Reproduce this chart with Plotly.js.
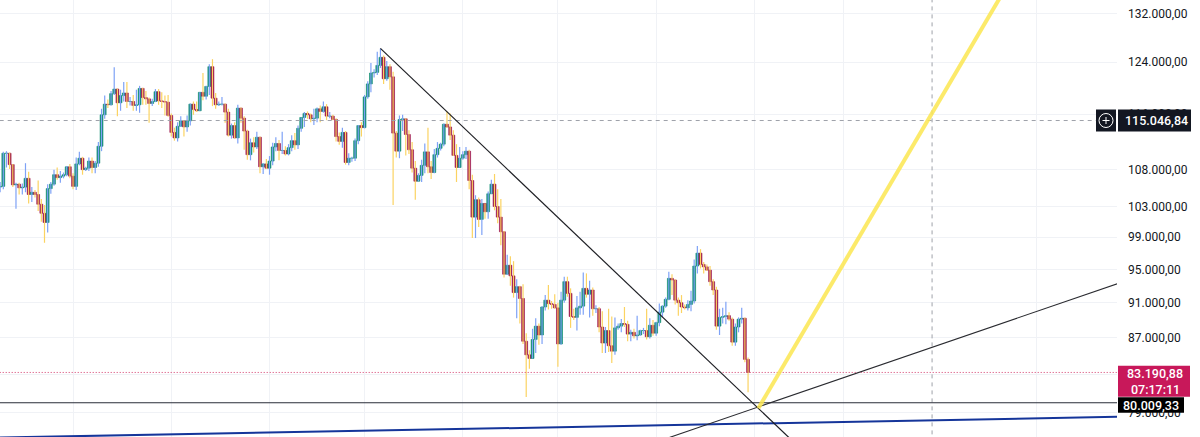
<!DOCTYPE html>
<html><head><meta charset="utf-8">
<script src="https://cdn.plot.ly/plotly-3.0.1.min.js"></script>
<style>html,body{margin:0;padding:0;background:#fff;}#chart{width:1200px;height:437px;}</style>
</head><body><div id="chart"></div>
<script>
// ---- daily candles (prices in thousands USD) ----
const dates = [
'2025-06-08','2025-06-09','2025-06-10','2025-06-11','2025-06-12','2025-06-13','2025-06-14','2025-06-15','2025-06-16','2025-06-17','2025-06-18','2025-06-19','2025-06-20','2025-06-21','2025-06-22','2025-06-23','2025-06-24','2025-06-25','2025-06-26','2025-06-27','2025-06-28','2025-06-29','2025-06-30',
'2025-07-01','2025-07-02','2025-07-03','2025-07-04','2025-07-05','2025-07-06','2025-07-07','2025-07-08','2025-07-09','2025-07-10','2025-07-11','2025-07-12','2025-07-13','2025-07-14','2025-07-15','2025-07-16','2025-07-17','2025-07-18','2025-07-19','2025-07-20','2025-07-21','2025-07-22','2025-07-23','2025-07-24','2025-07-25','2025-07-26','2025-07-27','2025-07-28','2025-07-29','2025-07-30','2025-07-31',
'2025-08-01','2025-08-02','2025-08-03','2025-08-04','2025-08-05','2025-08-06','2025-08-07','2025-08-08','2025-08-09','2025-08-10','2025-08-11','2025-08-12','2025-08-13','2025-08-14','2025-08-15','2025-08-16','2025-08-17','2025-08-18','2025-08-19','2025-08-20','2025-08-21','2025-08-22','2025-08-23','2025-08-24','2025-08-25','2025-08-26','2025-08-27','2025-08-28','2025-08-29','2025-08-30','2025-08-31',
'2025-09-01','2025-09-02','2025-09-03','2025-09-04','2025-09-05','2025-09-06','2025-09-07','2025-09-08','2025-09-09','2025-09-10','2025-09-11','2025-09-12','2025-09-13','2025-09-14','2025-09-15','2025-09-16','2025-09-17','2025-09-18','2025-09-19','2025-09-20','2025-09-21','2025-09-22','2025-09-23','2025-09-24','2025-09-25','2025-09-26','2025-09-27','2025-09-28','2025-09-29','2025-09-30',
'2025-10-01','2025-10-02','2025-10-03','2025-10-04','2025-10-05','2025-10-06','2025-10-07','2025-10-08','2025-10-09','2025-10-10','2025-10-11','2025-10-12','2025-10-13','2025-10-14','2025-10-15','2025-10-16','2025-10-17','2025-10-18','2025-10-19','2025-10-20','2025-10-21','2025-10-22','2025-10-23','2025-10-24','2025-10-25','2025-10-26','2025-10-27','2025-10-28','2025-10-29','2025-10-30','2025-10-31',
'2025-11-01','2025-11-02','2025-11-03','2025-11-04','2025-11-05','2025-11-06','2025-11-07','2025-11-08','2025-11-09','2025-11-10','2025-11-11','2025-11-12','2025-11-13','2025-11-14','2025-11-15','2025-11-16','2025-11-17','2025-11-18','2025-11-19','2025-11-20','2025-11-21','2025-11-22','2025-11-23','2025-11-24','2025-11-25','2025-11-26','2025-11-27','2025-11-28','2025-11-29','2025-11-30',
'2025-12-01','2025-12-02','2025-12-03','2025-12-04','2025-12-05','2025-12-06','2025-12-07','2025-12-08','2025-12-09','2025-12-10','2025-12-11','2025-12-12','2025-12-13','2025-12-14','2025-12-15','2025-12-16','2025-12-17','2025-12-18','2025-12-19','2025-12-20','2025-12-21','2025-12-22','2025-12-23','2025-12-24','2025-12-25','2025-12-26','2025-12-27','2025-12-28','2025-12-29','2025-12-30','2025-12-31',
'2026-01-01','2026-01-02','2026-01-03','2026-01-04','2026-01-05','2026-01-06','2026-01-07','2026-01-08','2026-01-09','2026-01-10','2026-01-11','2026-01-12','2026-01-13','2026-01-14','2026-01-15','2026-01-16','2026-01-17','2026-01-18','2026-01-19','2026-01-20','2026-01-21','2026-01-22','2026-01-23','2026-01-24','2026-01-25','2026-01-26','2026-01-27','2026-01-28','2026-01-29','2026-01-30'
];
const openK = [
105.6,105.7,110.3,110.3,108.7,105.9,106.0,105.5,105.6,106.8,104.6,104.9,104.6,103.3,102.1,100.9,105.4,106.0,107.3,106.9,107.1,107.3,108.4,
107.1,105.7,108.8,109.6,108.0,108.2,109.2,108.3,108.9,111.3,115.9,117.5,117.4,119.1,119.8,117.7,118.8,119.2,117.9,117.9,117.3,117.4,119.9,118.5,118.3,117.6,117.9,119.4,118.0,117.9,117.8,
115.8,113.3,112.5,114.2,115.0,114.1,115.0,117.5,116.7,116.5,119.3,118.7,120.2,123.3,118.4,117.4,117.5,117.5,116.3,112.9,114.3,112.5,116.9,115.4,113.5,110.1,111.8,111.2,112.6,108.4,108.8,
108.2,109.2,111.2,111.7,110.7,110.7,110.2,111.1,112.1,111.5,113.9,115.5,116.1,115.9,115.3,115.4,116.8,116.4,117.1,115.7,115.7,115.2,112.7,112.0,113.3,109.0,109.6,109.6,112.1,114.3,
114.0,118.6,120.6,122.3,122.4,123.5,124.8,121.4,123.3,121.7,113.2,110.6,115.2,115.3,113.0,110.8,108.2,106.4,107.2,108.6,110.5,108.4,107.6,110.1,111.0,111.6,114.5,114.1,112.9,110.0,108.3,
109.6,110.1,110.6,106.5,101.6,103.9,101.3,103.4,102.3,104.7,106.0,103.0,101.6,99.7,94.4,95.5,94.2,92.2,92.9,91.5,86.6,85.1,84.7,86.8,88.3,87.3,90.5,91.3,90.9,90.8,
90.4,86.3,91.3,93.5,92.1,89.4,89.3,90.4,90.6,92.7,92.0,92.5,90.3,90.3,88.2,86.4,87.8,86.1,85.5,88.1,88.3,88.6,88.5,87.4,87.6,87.2,87.3,87.8,87.8,87.1,88.4,
87.5,88.7,89.9,90.6,91.4,93.9,93.7,91.3,91.0,90.5,90.4,90.8,91.2,95.4,97.0,95.6,95.3,94.9,93.5,92.5,88.3,89.3,89.4,89.5,89.1,86.5,88.2,89.1,89.2,84.6
];
const highK = [
106.3,110.5,110.6,110.4,108.8,106.2,106.2,106.1,108.9,107.7,105.6,105.2,106.5,104.0,103.2,106.0,106.3,108.0,108.3,107.8,107.6,108.5,108.8,
107.5,109.7,110.5,109.8,108.4,109.7,109.7,109.2,111.9,116.8,118.8,118.2,119.5,123.2,119.9,119.7,120.9,120.9,118.6,118.9,119.7,120.3,120.0,119.5,118.5,118.3,119.8,119.8,119.3,118.8,118.9,
116.1,114.0,114.8,115.7,115.1,115.8,117.6,117.9,117.9,119.3,122.3,120.3,123.7,124.5,119.2,117.9,118.6,117.6,116.8,114.6,114.8,117.4,117.0,115.7,113.7,112.4,112.6,113.4,112.7,108.9,109.5,
109.9,111.8,112.6,112.2,113.4,111.3,111.6,112.9,113.2,114.3,115.5,116.3,116.4,116.1,116.8,117.0,117.3,117.9,117.5,116.3,115.9,115.4,113.3,114.0,113.5,110.3,109.8,112.4,114.4,114.8,
118.9,121.0,123.9,122.9,125.7,126.2,125.1,124.2,123.7,122.5,113.5,115.8,115.9,115.4,113.6,111.9,109.2,107.5,109.4,111.7,114.0,109.2,110.9,111.9,111.8,114.6,116.4,116.1,113.6,111.6,111.2,
110.6,111.2,110.8,107.3,104.5,104.2,104.0,103.4,105.0,106.6,107.4,105.3,104.0,99.8,96.8,96.6,96.0,93.8,93.0,93.2,87.5,85.6,88.0,89.2,88.6,90.6,91.9,93.1,91.2,92.0,
91.0,92.3,94.1,94.1,92.7,90.3,91.8,92.3,94.6,94.5,93.6,92.8,90.7,90.5,90.0,88.2,90.3,89.4,89.3,88.6,89.1,90.5,88.9,87.9,88.0,89.5,87.9,88.1,90.3,89.2,89.0,
88.8,90.9,90.7,91.6,94.7,94.4,93.8,91.6,91.9,90.8,91.3,92.4,96.2,97.9,97.5,95.9,95.6,95.4,93.8,92.9,90.3,90.4,91.1,89.9,89.3,88.6,89.3,90.4,89.3,84.8
];
const lowK = [
104.9,105.3,108.3,108.1,105.6,102.7,104.6,104.6,104.9,103.4,103.6,104.2,102.4,101.0,98.3,99.6,104.7,105.8,106.6,106.2,106.8,107.1,106.8,
105.3,105.2,108.6,107.3,107.8,107.8,107.5,107.5,108.4,110.6,115.3,116.9,117.3,118.9,115.7,116.5,117.9,116.9,117.3,116.5,116.5,116.2,117.4,117.4,114.7,117.2,117.8,117.4,116.9,115.8,115.6,
112.7,112.1,112.0,114.1,112.7,113.4,114.3,115.9,116.3,116.5,118.1,118.2,118.9,117.2,116.8,117.2,117.3,114.7,112.7,112.4,112.4,111.7,114.7,110.8,109.4,109.3,110.4,110.9,107.5,107.4,108.1,
107.3,108.6,110.6,109.3,110.2,110.0,110.0,110.6,110.8,110.9,113.4,114.1,115.3,114.8,114.4,114.8,114.8,116.2,115.1,115.4,115.1,112.0,111.5,111.1,108.7,108.6,109.1,109.2,111.6,112.7,
113.9,118.3,119.3,121.6,122.0,123.1,120.6,121.1,119.7,103.2,109.7,109.6,113.5,110.0,110.2,107.6,103.9,106.4,106.3,107.5,107.5,106.7,107.5,109.7,110.7,111.3,114.0,112.2,109.9,106.3,108.3,
109.4,109.5,105.3,98.9,98.9,100.3,99.3,101.4,101.4,104.7,102.5,100.8,98.0,94.0,94.3,93.0,91.6,89.2,88.6,86.3,80.6,83.6,84.7,85.3,86.2,86.3,90.1,90.2,90.3,90.3,
83.8,86.2,91.0,91.7,88.1,89.0,87.8,89.6,89.6,91.6,89.3,89.5,89.8,87.6,85.3,85.3,85.4,84.2,85.1,87.9,87.6,88.2,86.6,86.6,86.9,86.7,87.2,87.4,86.8,86.9,87.2,
87.2,88.3,89.3,90.4,91.3,91.9,90.8,89.5,89.8,90.2,90.1,90.0,90.9,94.5,95.1,94.5,94.8,93.0,91.9,87.9,87.3,88.6,88.5,88.9,86.1,86.1,87.6,88.6,84.3,81.1
];
const closeK = [
105.7,110.3,110.3,108.7,105.9,106.0,105.5,105.6,106.8,104.6,104.9,104.6,103.3,102.1,100.9,105.4,106.0,107.3,106.9,107.1,107.3,108.4,107.1,
105.7,108.8,109.6,108.0,108.2,109.2,108.3,108.9,111.3,115.9,117.5,117.4,119.1,119.8,117.7,118.8,119.2,117.9,117.9,117.3,117.4,119.9,118.5,118.3,117.6,117.9,119.4,118.0,117.9,117.8,115.8,
113.3,112.5,114.2,115.0,114.1,115.0,117.5,116.7,116.5,119.3,118.7,120.2,123.3,118.4,117.4,117.5,117.5,116.3,112.9,114.3,112.5,116.9,115.4,113.5,110.1,111.8,111.2,112.6,108.4,108.8,108.2,
109.2,111.2,111.7,110.7,110.7,110.2,111.1,112.1,111.5,113.9,115.5,116.1,115.9,115.3,115.4,116.8,116.4,117.1,115.7,115.7,115.2,112.7,112.0,113.3,109.0,109.6,109.6,112.1,114.3,114.0,
118.6,120.6,122.3,122.4,123.5,124.8,121.4,123.3,121.7,113.2,110.6,115.2,115.3,113.0,110.8,108.2,106.4,107.2,108.6,110.5,108.4,107.6,110.1,111.0,111.6,114.5,114.1,112.9,110.0,108.3,109.6,
110.1,110.6,106.5,101.6,103.9,101.3,103.4,102.3,104.7,106.0,103.0,101.6,99.7,94.4,95.5,94.2,92.2,92.9,91.5,86.6,85.1,84.7,86.8,88.3,87.3,90.5,91.3,90.9,90.8,90.4,
86.3,91.3,93.5,92.1,89.4,89.3,90.4,90.6,92.7,92.0,92.5,90.3,90.3,88.2,86.4,87.8,86.1,85.5,88.1,88.3,88.6,88.5,87.4,87.6,87.2,87.3,87.8,87.8,87.1,88.4,87.5,
88.7,89.9,90.6,91.4,93.9,93.7,91.3,91.0,90.5,90.4,90.8,91.2,95.4,97.0,95.6,95.3,94.9,93.5,92.5,88.3,89.3,89.4,89.5,89.1,86.5,88.2,89.1,89.2,84.6,83.19088
];

// ---- axis ticks / grid ----
const priceTicks = [79000,83000,87000,91000,95000,99000,103000,108000,116000,124000,132000];
const gridDates = ['2025-07-01','2025-08-01','2025-09-01','2025-10-01','2025-11-01','2025-12-01','2026-01-01','2026-02-01','2026-03-01','2026-05-01'];

// ---- price labels / levels ----
const lastPrice = 83190.88, lastPriceText = '83.190,88', countdownText = '07:17:11';
const levelPrice = 80009.33, levelText = '80.009,33';
const crossPrice = 115046.84, crossText = '115.046,84', crossDate = '2026-03-29 01:30';

// ---- drawings (trend lines) ----
const downTrendX = ['2025-10-06', '2026-02-19 05:00'], downTrendY = [126250, 74362];
const riseTrendX = ['2026-01-02 05:00', '2026-05-30 12:00'], riseTrendY = [76194, 93774];
const yellowX = ['2026-02-02 06:00', '2026-04-22 18:30'], yellowY = [79438, 137855];
const blueX = ['2025-06-07 23:00', '2026-05-30 12:00'], blueY = [76503, 78599];

// ---- build ----
const O = openK.map(v => v * 1000), H = highK.map(v => v * 1000),
      L = lowK.map(v => v * 1000), C = closeK.map(v => v * 1000);
const UP = '#0a8a6e', DOWN = '#9a0f47';
const upWickX = [], upWickY = [], dnWickX = [], dnWickY = [];
dates.forEach((d, i) => {
  if (C[i] >= O[i]) { upWickX.push(d, d, null); upWickY.push(L[i], H[i], null); }
  else { dnWickX.push(d, d, null); dnWickY.push(L[i], H[i], null); }
});
const bodyColors = dates.map((d, i) => C[i] >= O[i] ? UP : DOWN);

const xRange = ['2025-06-07 23:00', '2026-05-26 10:00'];
const yRange = [Math.log10(76559), Math.log10(134350)];
const farX = ['2025-05-01', '2026-07-01'];

const traces = [
  {type: 'scatter', mode: 'lines', x: upWickX, y: upWickY, line: {color: '#7ea2f6', width: 1.2}, hoverinfo: 'skip'},
  {type: 'scatter', mode: 'lines', x: dnWickX, y: dnWickY, line: {color: '#fbd362', width: 1.2}, hoverinfo: 'skip'},
  {type: 'bar', x: dates, base: O, y: C.map((c, i) => c - O[i]), width: 0.9 * 86400000,
   marker: {color: bodyColors, line: {color: bodyColors, width: 0.6}}, hoverinfo: 'skip'},
  // crosshair
  {type: 'scatter', mode: 'lines', x: farX, y: [crossPrice, crossPrice], line: {color: '#9ea1a9', width: 1, dash: '4px,4px'}},
  {type: 'scatter', mode: 'lines', x: [crossDate, crossDate], y: [60000, 160000], line: {color: '#9ea1a9', width: 1, dash: '4px,4px'}},
  // last price dotted
  {type: 'scatter', mode: 'lines', x: farX, y: [lastPrice, lastPrice], line: {color: '#d2386a', width: 1, dash: '1px,2px'}},
  // horizontal level
  {type: 'scatter', mode: 'lines', x: farX, y: [levelPrice, levelPrice], line: {color: '#2a2e39', width: 1.2}},
  // trend lines
  {type: 'scatter', mode: 'lines', x: blueX, y: blueY, line: {color: '#15359a', width: 2}},
  {type: 'scatter', mode: 'lines', x: downTrendX, y: downTrendY, line: {color: '#1e1f24', width: 1.2}},
  {type: 'scatter', mode: 'lines', x: riseTrendX, y: riseTrendY, line: {color: '#2a2b30', width: 1.1}},
  {type: 'scatter', mode: 'lines', x: yellowX, y: yellowY, line: {color: 'rgba(252,230,80,0.85)', width: 4}}
];

const PW = 1117, PH = 437;
const px = v => v / PW, py = v => 1 - v / PH;
const shapes = [
  {type: 'rect', xref: 'paper', yref: 'paper', x0: px(1096), x1: px(1116), y0: py(131.5), y1: py(109.5), fillcolor: '#131722', line: {width: 0}, layer: 'above'},
  {type: 'circle', xref: 'paper', yref: 'paper', x0: px(1099), x1: px(1113), y0: py(127.5), y1: py(113.5), line: {color: '#ffffff', width: 1}, layer: 'above'},
  {type: 'line', xref: 'paper', yref: 'paper', x0: px(1102.5), x1: px(1109.5), y0: py(120.5), y1: py(120.5), line: {color: '#ffffff', width: 1}, layer: 'above'},
  {type: 'line', xref: 'paper', yref: 'paper', x0: px(1106), x1: px(1106), y0: py(117), y1: py(124), line: {color: '#ffffff', width: 1}, layer: 'above'},
  {type: 'rect', xref: 'paper', yref: 'paper', x0: px(1118), x1: px(1191), y0: py(131.5), y1: py(109.5), fillcolor: '#131722', line: {width: 0}, layer: 'above'},
  {type: 'rect', xref: 'paper', yref: 'paper', x0: px(1118), x1: px(1190), y0: py(396.7), y1: py(365.7), fillcolor: '#c8185a', line: {width: 0}, layer: 'above'},
  {type: 'rect', xref: 'paper', yref: 'paper', x0: px(1118), x1: px(1184), y0: py(412.7), y1: py(397.3), fillcolor: '#000000', line: {width: 0}, layer: 'above'}
];
const lblFont = {family: 'Roboto, sans-serif', size: 12.5, color: '#ffffff', weight: 500};
const annotations = [
  {xref: 'paper', yref: 'paper', x: px(1156), y: py(120.5), text: crossText, showarrow: false, xanchor: 'center', yanchor: 'middle', font: lblFont},
  {xref: 'paper', yref: 'paper', x: px(1155), y: py(373), text: lastPriceText, showarrow: false, xanchor: 'center', yanchor: 'middle', font: lblFont},
  {xref: 'paper', yref: 'paper', x: px(1155), y: py(389), text: countdownText, showarrow: false, xanchor: 'center', yanchor: 'middle', font: lblFont},
  {xref: 'paper', yref: 'paper', x: px(1151), y: py(405), text: levelText, showarrow: false, xanchor: 'center', yanchor: 'middle', font: lblFont}
];

const layout = {
  width: 1200, height: 437,
  margin: {l: 0, r: 83, t: 0, b: 0, pad: 0},
  paper_bgcolor: '#ffffff', plot_bgcolor: '#ffffff',
  showlegend: false, barmode: 'overlay', separators: ',.',
  xaxis: {type: 'date', range: xRange, tickvals: gridDates, showticklabels: false, ticks: '',
          showgrid: true, gridcolor: '#f0f2f6', gridwidth: 1, zeroline: false, showline: false, fixedrange: true},
  yaxis: {type: 'log', side: 'right', range: yRange, tickvals: priceTicks, tickformat: ',.2f',
          ticks: '', ticklabelstandoff: 10,
          tickfont: {family: 'Roboto, sans-serif', size: 12, color: '#131722'},
          showgrid: true, gridcolor: '#f0f2f6', gridwidth: 1, zeroline: false, showline: false, fixedrange: true},
  shapes: shapes, annotations: annotations
};
Plotly.newPlot('chart', traces, layout, {staticPlot: true, displayModeBar: false});
</script>
</body></html>
